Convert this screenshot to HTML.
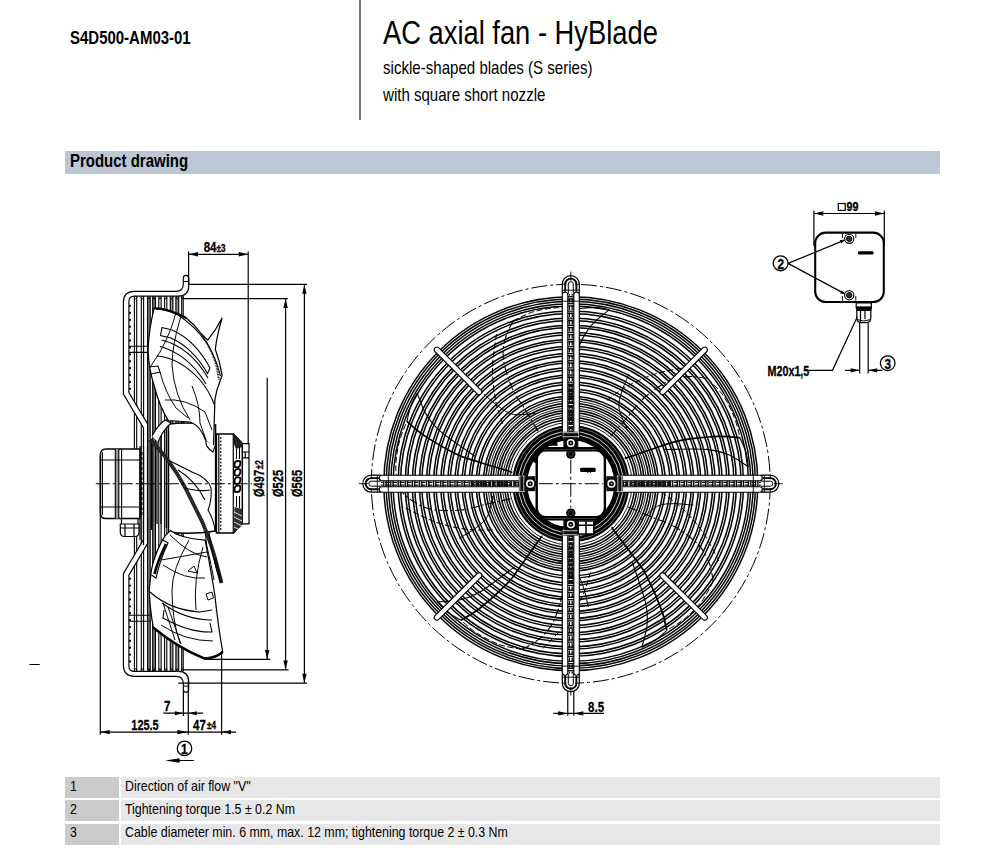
<!DOCTYPE html>
<html><head><meta charset="utf-8">
<style>
html,body{margin:0;padding:0;background:#fff;}
body{width:989px;height:852px;position:relative;overflow:hidden;font-family:"Liberation Sans",sans-serif;color:#000;}
.t{position:absolute;white-space:nowrap;transform-origin:0 0;line-height:1;}
.b{font-weight:bold;}
#vline{position:absolute;left:359px;top:0;width:2px;height:119.7px;background:#7a7a7a;}
#band{position:absolute;left:65.3px;top:151.3px;width:875px;height:22.3px;background:#bbc7d4;}
.row{position:absolute;left:120.8px;height:21px;width:819.5px;background:#e7e7e7;}
.row i{position:absolute;left:-55.6px;top:0;width:53.7px;height:21px;background:#cbcbcb;}
</style></head><body>
<div id="vline"></div>
<div class="t b" id="pn" style="left:69.8px;top:27.77px;font-size:19px;transform:scaleX(0.788)">S4D500-AM03-01</div>
<div class="t" id="ti" style="left:383.3px;top:15.1px;font-size:34px;transform:scaleX(0.8035)">AC axial fan - HyBlade</div>
<div class="t" id="s1" style="left:383px;top:58.6px;font-size:18.5px;transform:scaleX(0.815)">sickle-shaped blades (S series)</div>
<div class="t" id="s2" style="left:383px;top:86.4px;font-size:18.5px;transform:scaleX(0.814)">with square short nozzle</div>
<div id="band"></div>
<div class="t b" id="pd" style="left:69.5px;top:151.3px;font-size:19px;transform:scaleX(0.788)">Product drawing</div>
<div class="row" style="top:777.3px"><i></i></div>
<div class="row" style="top:800.3px"><i></i></div>
<div class="row" style="top:823.5px"><i></i></div>
<div class="t" id="r1a" style="left:69.6px;top:779.27px;font-size:14.8px;transform:scaleX(0.836)">1</div>
<div class="t" id="r1" style="left:124.9px;top:779.27px;font-size:14.8px;transform:scaleX(0.836)">Direction of air flow "V"</div>
<div class="t" id="r2a" style="left:69.6px;top:801.97px;font-size:14.8px;transform:scaleX(0.836)">2</div>
<div class="t" id="r2" style="left:124.9px;top:801.97px;font-size:14.8px;transform:scaleX(0.836)">Tightening torque 1.5 ± 0.2 Nm</div>
<div class="t" id="r3a" style="left:69.6px;top:824.97px;font-size:14.8px;transform:scaleX(0.836)">3</div>
<div class="t" id="r3" style="left:124.9px;top:824.97px;font-size:14.8px;transform:scaleX(0.836)">Cable diameter min. 6 mm, max. 12 mm; tightening torque 2 ± 0.3 Nm</div>
<svg id="dw" width="989" height="852" viewBox="0 0 989 852" style="position:absolute;left:0;top:0" fill="none" stroke="#000" stroke-width="1">
<g id="front"><g><path d="M625.0,457.9 C625.6,457.7 622.9,459.0 629.0,457.1 C635.0,455.1 652.6,448.8 661.3,446.0 C670.0,443.2 671.6,441.9 681.1,440.3 C690.5,438.7 708.2,436.9 718.0,436.4 C727.8,436.0 736.3,437.5 740.0,437.7" stroke-width="1.7"/><path d="M610.7,436.2 C613.3,433.2 621.2,424.3 626.7,418.0 C632.3,411.6 637.0,404.2 644.0,398.0 C651.0,391.8 661.0,384.6 668.6,381.0 C676.2,377.5 683.2,377.1 689.7,376.6 C696.3,376.2 704.9,378.2 707.9,378.5" stroke-width="1.1" stroke-dasharray="9 2.5 2 2.5"/><path d="M664.8,449.5 C671.7,449.5 696.0,448.5 706.5,449.4 C717.1,450.2 721.2,451.7 728.1,454.5 C735.1,457.4 744.9,464.6 748.3,466.6" stroke-width="1.1"/><path d="M629.0,373.8 C627.8,376.8 623.4,386.2 621.7,391.9 C620.0,397.6 618.2,402.0 619.0,408.0 C619.8,414.1 625.4,424.7 626.7,428.0" stroke-width="1.0"/><path d="M606.9,400.4 C610.2,398.0 618.7,390.7 627.1,386.2 C635.5,381.7 646.0,376.7 657.0,373.4 C668.0,370.1 687.2,367.4 693.3,366.2" stroke-width="1.0" stroke-dasharray="6 2.5"/><path d="M740.0,437.7 C741.0,440.2 744.7,448.0 746.1,452.8 C747.5,457.6 747.9,464.3 748.3,466.6" stroke-width="1.1"/><path d="M707.9,378.5 C710.4,381.4 718.8,389.2 723.2,395.7 C727.6,402.2 731.7,410.6 734.4,417.6 C737.2,424.6 739.0,434.4 740.0,437.7" stroke-width="1.0" stroke-dasharray="6 2.5"/><path d="M612.1,527.2 C612.4,527.8 610.4,525.7 614.1,530.8 C617.9,536.0 629.2,550.7 634.6,558.1 C639.9,565.5 641.7,566.6 646.2,575.1 C650.6,583.6 657.8,599.9 661.2,609.1 C664.7,618.3 665.9,626.8 666.8,630.4" stroke-width="1.7"/><path d="M628.3,506.9 C632.0,508.5 642.8,513.3 650.6,516.6 C658.4,519.9 666.9,522.1 674.9,526.8 C682.9,531.6 692.9,538.8 698.7,545.0 C704.4,551.1 706.9,557.6 709.4,563.7 C711.8,569.8 712.6,578.6 713.2,581.6" stroke-width="1.1" stroke-dasharray="9 2.5 2 2.5"/><path d="M632.4,562.5 C634.5,569.1 642.9,591.9 645.4,602.2 C647.9,612.5 647.7,616.8 647.1,624.3 C646.6,631.8 642.8,643.4 641.9,647.2" stroke-width="1.1"/><path d="M693.3,505.1 C690.1,504.9 679.8,503.6 673.9,503.7 C667.9,503.9 663.1,503.5 657.6,506.2 C652.2,508.8 643.8,517.4 641.0,519.6" stroke-width="1.0"/><path d="M661.2,492.2 C664.5,494.7 674.1,500.6 680.9,507.1 C687.8,513.7 695.8,522.1 702.4,531.6 C708.9,541.0 717.4,558.5 720.4,563.9" stroke-width="1.0" stroke-dasharray="6 2.5"/><path d="M666.8,630.4 C664.7,632.1 658.5,638.1 654.4,640.9 C650.2,643.7 644.0,646.2 641.9,647.2" stroke-width="1.1"/><path d="M713.2,581.6 C711.3,584.9 706.4,595.2 701.6,601.5 C696.8,607.7 690.1,614.1 684.3,618.9 C678.5,623.7 669.7,628.5 666.8,630.4" stroke-width="1.0" stroke-dasharray="6 2.5"/><path d="M542.2,536.4 C541.7,536.9 543.1,534.3 539.4,539.5 C535.6,544.6 525.1,560.0 519.7,567.3 C514.4,574.7 513.8,576.8 507.1,583.6 C500.4,590.5 487.2,602.3 479.5,608.5 C471.8,614.6 464.0,618.3 461.0,620.3" stroke-width="1.7"/><path d="M566.5,545.5 C566.1,549.6 564.9,561.3 564.2,569.7 C563.4,578.2 564.0,587.0 562.0,596.1 C559.9,605.1 556.1,616.9 552.0,624.3 C548.0,631.6 542.6,636.0 537.5,640.2 C532.5,644.4 524.4,647.9 521.7,649.4" stroke-width="1.1" stroke-dasharray="9 2.5 2 2.5"/><path d="M514.9,566.6 C509.3,570.7 490.2,585.7 481.2,591.3 C472.1,596.8 468.0,598.0 460.7,599.8 C453.3,601.5 441.2,601.5 437.3,601.8" stroke-width="1.1"/><path d="M588.3,606.9 C587.5,603.7 585.6,593.5 583.6,587.9 C581.6,582.3 580.5,577.6 576.3,573.2 C572.1,568.8 561.3,563.5 558.3,561.6" stroke-width="1.0"/><path d="M590.6,572.3 C589.3,576.2 586.7,587.1 582.6,595.7 C578.5,604.2 572.9,614.4 565.9,623.6 C558.9,632.8 544.9,646.2 540.7,650.7" stroke-width="1.0" stroke-dasharray="6 2.5"/><path d="M461.0,620.3 C458.7,618.9 451.1,614.8 447.2,611.7 C443.2,608.7 438.9,603.5 437.3,601.8" stroke-width="1.1"/><path d="M521.7,649.4 C518.0,648.6 506.6,647.2 499.2,644.5 C491.8,641.8 483.6,637.4 477.3,633.4 C470.9,629.4 463.7,622.5 461.0,620.3" stroke-width="1.0" stroke-dasharray="6 2.5"/><path d="M511.8,472.8 C511.2,472.5 514.1,473.0 508.1,471.0 C502.0,469.1 484.1,463.8 475.5,461.0 C466.8,458.2 464.7,458.3 456.1,454.0 C447.5,449.8 432.1,440.8 423.9,435.4 C415.7,430.0 409.8,423.8 406.9,421.4" stroke-width="1.7"/><path d="M510.6,498.7 C506.7,499.6 495.2,502.1 486.9,504.0 C478.7,505.9 470.5,509.1 461.2,510.0 C451.9,510.9 439.6,510.9 431.3,509.3 C423.1,507.7 417.2,503.9 411.7,500.4 C406.1,496.9 400.3,490.3 398.1,488.2" stroke-width="1.1" stroke-dasharray="9 2.5 2 2.5"/><path d="M474.7,456.1 C469.0,452.1 448.9,438.6 440.8,431.7 C432.8,424.8 430.3,421.2 426.4,414.8 C422.4,408.4 418.7,396.8 417.2,393.2" stroke-width="1.1"/><path d="M459.1,538.4 C461.8,536.7 470.9,531.7 475.6,528.1 C480.3,524.4 484.5,521.9 487.3,516.6 C490.2,511.2 491.9,499.4 492.8,495.9" stroke-width="1.0"/><path d="M492.6,529.9 C488.5,529.9 477.3,530.8 467.9,529.5 C458.5,528.2 447.1,526.1 436.2,522.3 C425.3,518.5 408.3,509.3 402.7,506.7" stroke-width="1.0" stroke-dasharray="6 2.5"/><path d="M406.9,421.4 C407.6,418.8 409.1,410.4 410.8,405.7 C412.5,401.0 416.1,395.3 417.2,393.2" stroke-width="1.1"/><path d="M398.1,488.2 C397.7,484.4 395.5,473.2 395.8,465.3 C396.0,457.4 397.7,448.3 399.5,441.0 C401.4,433.7 405.7,424.7 406.9,421.4" stroke-width="1.0" stroke-dasharray="6 2.5"/><path d="M563.0,424.2 C563.0,423.5 563.4,426.5 563.4,420.1 C563.4,413.8 562.9,395.1 562.9,386.0 C563.0,376.9 562.2,374.9 563.6,365.4 C565.0,355.9 568.7,338.6 571.3,329.1 C574.0,319.6 578.0,312.0 579.4,308.6" stroke-width="1.7"/><path d="M537.9,431.1 C535.9,427.6 529.9,417.4 525.6,410.2 C521.2,402.9 515.6,396.1 511.9,387.6 C508.2,379.1 504.4,367.3 503.4,359.0 C502.3,350.6 504.1,343.9 505.7,337.5 C507.3,331.2 511.9,323.6 513.1,320.8" stroke-width="1.1" stroke-dasharray="9 2.5 2 2.5"/><path d="M567.3,383.8 C569.4,377.1 576.0,353.8 580.1,344.0 C584.1,334.2 586.8,330.8 591.7,325.1 C596.6,319.3 606.4,312.2 609.4,309.6" stroke-width="1.1"/><path d="M484.2,394.4 C486.7,396.5 494.3,403.6 499.2,406.9 C504.1,410.3 507.8,413.4 513.7,414.5 C519.7,415.6 531.5,413.5 535.1,413.3" stroke-width="1.0"/><path d="M502.7,423.7 C501.5,419.7 497.2,409.4 495.5,400.0 C493.8,390.7 492.3,379.2 492.5,367.6 C492.8,356.1 496.2,337.0 496.9,330.9" stroke-width="1.0" stroke-dasharray="6 2.5"/><path d="M579.4,308.6 C582.1,308.4 590.6,307.3 595.6,307.4 C600.6,307.6 607.1,309.3 609.4,309.6" stroke-width="1.1"/><path d="M513.1,320.8 C516.6,319.3 526.6,313.7 534.2,311.5 C541.8,309.3 551.0,308.1 558.5,307.6 C566.0,307.1 575.9,308.4 579.4,308.6" stroke-width="1.0" stroke-dasharray="6 2.5"/></g>
<circle cx="570.8" cy="483.7" r="61.3" stroke-width="0.9"/>
<circle cx="570.8" cy="483.7" r="68.6" stroke-width="0.9"/>
<circle cx="570.8" cy="483.7" r="75.6" stroke-width="0.9"/>
<circle cx="570.8" cy="483.7" r="82.8" stroke-width="0.9"/>
<circle cx="570.8" cy="483.7" r="66.20" stroke-width="1.5"/>
<circle cx="570.8" cy="483.7" r="63.80" stroke-width="1.5"/>
<circle cx="570.8" cy="483.7" r="73.30" stroke-width="1.5"/>
<circle cx="570.8" cy="483.7" r="70.90" stroke-width="1.5"/>
<circle cx="570.8" cy="483.7" r="80.40" stroke-width="1.5"/>
<circle cx="570.8" cy="483.7" r="78.00" stroke-width="1.5"/>
<circle cx="570.8" cy="483.7" r="87.50" stroke-width="1.5"/>
<circle cx="570.8" cy="483.7" r="85.10" stroke-width="1.5"/>
<circle cx="570.8" cy="483.7" r="94.60" stroke-width="1.5"/>
<circle cx="570.8" cy="483.7" r="92.20" stroke-width="1.5"/>
<circle cx="570.8" cy="483.7" r="101.70" stroke-width="1.5"/>
<circle cx="570.8" cy="483.7" r="99.30" stroke-width="1.5"/>
<circle cx="570.8" cy="483.7" r="108.80" stroke-width="1.5"/>
<circle cx="570.8" cy="483.7" r="106.40" stroke-width="1.5"/>
<circle cx="570.8" cy="483.7" r="115.90" stroke-width="1.5"/>
<circle cx="570.8" cy="483.7" r="113.50" stroke-width="1.5"/>
<circle cx="570.8" cy="483.7" r="123.00" stroke-width="1.5"/>
<circle cx="570.8" cy="483.7" r="120.60" stroke-width="1.5"/>
<circle cx="570.8" cy="483.7" r="130.10" stroke-width="1.5"/>
<circle cx="570.8" cy="483.7" r="127.70" stroke-width="1.5"/>
<circle cx="570.8" cy="483.7" r="137.20" stroke-width="1.5"/>
<circle cx="570.8" cy="483.7" r="134.80" stroke-width="1.5"/>
<circle cx="570.8" cy="483.7" r="144.30" stroke-width="1.5"/>
<circle cx="570.8" cy="483.7" r="141.90" stroke-width="1.5"/>
<circle cx="570.8" cy="483.7" r="151.40" stroke-width="1.5"/>
<circle cx="570.8" cy="483.7" r="149.00" stroke-width="1.5"/>
<circle cx="570.8" cy="483.7" r="158.50" stroke-width="1.5"/>
<circle cx="570.8" cy="483.7" r="156.10" stroke-width="1.5"/>
<circle cx="570.8" cy="483.7" r="165.60" stroke-width="1.5"/>
<circle cx="570.8" cy="483.7" r="163.20" stroke-width="1.5"/>
<circle cx="570.8" cy="483.7" r="172.70" stroke-width="1.5"/>
<circle cx="570.8" cy="483.7" r="170.30" stroke-width="1.5"/>
<circle cx="570.8" cy="483.7" r="177.7" stroke-width="1.45"/>
<circle cx="570.8" cy="483.7" r="180.0" stroke-width="1.45"/>
<circle cx="570.8" cy="483.7" r="182.4" stroke-width="1.45"/>
<circle cx="570.8" cy="483.7" r="184.7" stroke-width="1.45"/>
<circle cx="570.8" cy="483.7" r="187.0" stroke-width="1.45"/>
<circle cx="570.8" cy="483.7" r="199.5" stroke-width="1" stroke-dasharray="16 3 3 3"/>
<g transform="rotate(45 570.8 483.7)"><rect x="697.8" y="481.0" width="65" height="5.4" rx="2.7" fill="#fff" stroke-width="1.1"/></g>
<g transform="rotate(135 570.8 483.7)"><rect x="697.8" y="481.0" width="65" height="5.4" rx="2.7" fill="#fff" stroke-width="1.1"/></g>
<g transform="rotate(225 570.8 483.7)"><rect x="697.8" y="481.0" width="65" height="5.4" rx="2.7" fill="#fff" stroke-width="1.1"/></g>
<g transform="rotate(315 570.8 483.7)"><rect x="697.8" y="481.0" width="65" height="5.4" rx="2.7" fill="#fff" stroke-width="1.1"/></g>
<circle cx="570.8" cy="483.7" r="51" stroke-width="15"/>
<circle cx="570.8" cy="483.7" r="49.2" stroke="#fff" stroke-width="0.8"/>
<circle cx="570.8" cy="483.7" r="52.6" stroke="#fff" stroke-width="0.8"/>
<circle cx="570.8" cy="483.7" r="56.3" stroke="#ddd" stroke-width="0.5"/>
<g transform="rotate(0 570.8 483.7)"><rect x="616.8" y="480.5" width="145" height="6.4" fill="#fff" stroke="none"/><path d="M634.65,480.5 v6.4 M636.95,480.5 v6.4" stroke-width="1.35"/><path d="M641.75,480.5 v6.4 M644.05,480.5 v6.4" stroke-width="1.35"/><path d="M648.85,480.5 v6.4 M651.15,480.5 v6.4" stroke-width="1.35"/><path d="M655.95,480.5 v6.4 M658.25,480.5 v6.4" stroke-width="1.35"/><path d="M663.05,480.5 v6.4 M665.35,480.5 v6.4" stroke-width="1.35"/><path d="M670.15,480.5 v6.4 M672.45,480.5 v6.4" stroke-width="1.35"/><path d="M677.25,480.5 v6.4 M679.55,480.5 v6.4" stroke-width="1.35"/><path d="M684.35,480.5 v6.4 M686.65,480.5 v6.4" stroke-width="1.35"/><path d="M691.45,480.5 v6.4 M693.75,480.5 v6.4" stroke-width="1.35"/><path d="M698.55,480.5 v6.4 M700.85,480.5 v6.4" stroke-width="1.35"/><path d="M705.65,480.5 v6.4 M707.95,480.5 v6.4" stroke-width="1.35"/><path d="M712.75,480.5 v6.4 M715.05,480.5 v6.4" stroke-width="1.35"/><path d="M719.85,480.5 v6.4 M722.15,480.5 v6.4" stroke-width="1.35"/><path d="M726.95,480.5 v6.4 M729.25,480.5 v6.4" stroke-width="1.35"/><path d="M734.05,480.5 v6.4 M736.35,480.5 v6.4" stroke-width="1.35"/><path d="M741.15,480.5 v6.4 M743.45,480.5 v6.4" stroke-width="1.35"/><path d="M748.5,480.5 v6.4" stroke-width="1.3"/><path d="M750.8,480.5 v6.4" stroke-width="1.3"/><path d="M753.1999999999999,480.5 v6.4" stroke-width="1.3"/><path d="M755.5,480.5 v6.4" stroke-width="1.3"/><path d="M757.8,480.5 v6.4" stroke-width="1.3"/><path d="M616.8,482.3 H760.8 M616.8,485.09999999999997 H760.8" stroke-width="1.3" stroke-dasharray="4.5 2.6"/><path d="M616.8,483.7 H670.8" stroke-width="5" stroke="#111" stroke-dasharray="3 1.2"/><path d="M760.8,475.2 H770.3 A8.5,8.5 0 0 1 770.3,492.2 H760.8" fill="#fff" stroke-width="1.2"/><path d="M762.8,478.09999999999997 H770.3 A5.6,5.6 0 0 1 770.3,489.3 H762.8" stroke-width="1.9"/><path d="M760.8,481.2 H770.3 A2.5,2.5 0 0 1 770.3,486.2 H760.8" stroke-width="1"/><path d="M764.3,475.2 v17 M770.3,475.2 v4 M770.3,488.2 v4" stroke-width="0.9"/><rect x="614.8" y="475.2" width="147.5" height="5.5" rx="2.6" fill="#fff" stroke-width="1.15"/><rect x="614.8" y="486.7" width="147.5" height="5.5" rx="2.6" fill="#fff" stroke-width="1.15"/><path d="M753.3,474.2 v19" stroke-width="0.9"/><path d="M773.8,483.7 H782.8" stroke-width="0.9"/><path d="M606.3,476.2 H622.8 V491.2 H606.3Z" fill="#111" stroke="none"/><path d="M617.8,475.2 v17 M621.8,475.2 v17" stroke="#fff" stroke-width="0.7"/><circle cx="611.4" cy="483.7" r="5.9" fill="#000" stroke="none"/><circle cx="611.4" cy="483.7" r="3.5" fill="#fff" stroke="#fff" stroke-width="1.2"/><circle cx="611.4" cy="483.7" r="2.5" fill="#000" stroke="none"/><circle cx="611.4" cy="483.7" r="0.9" fill="#ccc" stroke="none"/></g>
<g transform="rotate(90 570.8 483.7)"><rect x="616.8" y="480.5" width="145" height="6.4" fill="#fff" stroke="none"/><path d="M634.65,480.5 v6.4 M636.95,480.5 v6.4" stroke-width="1.35"/><path d="M641.75,480.5 v6.4 M644.05,480.5 v6.4" stroke-width="1.35"/><path d="M648.85,480.5 v6.4 M651.15,480.5 v6.4" stroke-width="1.35"/><path d="M655.95,480.5 v6.4 M658.25,480.5 v6.4" stroke-width="1.35"/><path d="M663.05,480.5 v6.4 M665.35,480.5 v6.4" stroke-width="1.35"/><path d="M670.15,480.5 v6.4 M672.45,480.5 v6.4" stroke-width="1.35"/><path d="M677.25,480.5 v6.4 M679.55,480.5 v6.4" stroke-width="1.35"/><path d="M684.35,480.5 v6.4 M686.65,480.5 v6.4" stroke-width="1.35"/><path d="M691.45,480.5 v6.4 M693.75,480.5 v6.4" stroke-width="1.35"/><path d="M698.55,480.5 v6.4 M700.85,480.5 v6.4" stroke-width="1.35"/><path d="M705.65,480.5 v6.4 M707.95,480.5 v6.4" stroke-width="1.35"/><path d="M712.75,480.5 v6.4 M715.05,480.5 v6.4" stroke-width="1.35"/><path d="M719.85,480.5 v6.4 M722.15,480.5 v6.4" stroke-width="1.35"/><path d="M726.95,480.5 v6.4 M729.25,480.5 v6.4" stroke-width="1.35"/><path d="M734.05,480.5 v6.4 M736.35,480.5 v6.4" stroke-width="1.35"/><path d="M741.15,480.5 v6.4 M743.45,480.5 v6.4" stroke-width="1.35"/><path d="M748.5,480.5 v6.4" stroke-width="1.3"/><path d="M750.8,480.5 v6.4" stroke-width="1.3"/><path d="M753.1999999999999,480.5 v6.4" stroke-width="1.3"/><path d="M755.5,480.5 v6.4" stroke-width="1.3"/><path d="M757.8,480.5 v6.4" stroke-width="1.3"/><path d="M616.8,482.3 H760.8 M616.8,485.09999999999997 H760.8" stroke-width="1.3" stroke-dasharray="4.5 2.6"/><path d="M616.8,483.7 H670.8" stroke-width="5" stroke="#111" stroke-dasharray="3 1.2"/><path d="M760.8,475.2 H770.3 A8.5,8.5 0 0 1 770.3,492.2 H760.8" fill="#fff" stroke-width="1.2"/><path d="M762.8,478.09999999999997 H770.3 A5.6,5.6 0 0 1 770.3,489.3 H762.8" stroke-width="1.9"/><path d="M760.8,481.2 H770.3 A2.5,2.5 0 0 1 770.3,486.2 H760.8" stroke-width="1"/><path d="M764.3,475.2 v17 M770.3,475.2 v4 M770.3,488.2 v4" stroke-width="0.9"/><rect x="614.8" y="475.2" width="147.5" height="5.5" rx="2.6" fill="#fff" stroke-width="1.15"/><rect x="614.8" y="486.7" width="147.5" height="5.5" rx="2.6" fill="#fff" stroke-width="1.15"/><path d="M753.3,474.2 v19" stroke-width="0.9"/><path d="M773.8,483.7 H782.8" stroke-width="0.9"/><path d="M606.3,476.2 H622.8 V491.2 H606.3Z" fill="#111" stroke="none"/><path d="M617.8,475.2 v17 M621.8,475.2 v17" stroke="#fff" stroke-width="0.7"/><circle cx="611.4" cy="483.7" r="5.9" fill="#000" stroke="none"/><circle cx="611.4" cy="483.7" r="3.5" fill="#fff" stroke="#fff" stroke-width="1.2"/><circle cx="611.4" cy="483.7" r="2.5" fill="#000" stroke="none"/><circle cx="611.4" cy="483.7" r="0.9" fill="#ccc" stroke="none"/></g>
<g transform="rotate(180 570.8 483.7)"><rect x="616.8" y="480.5" width="145" height="6.4" fill="#fff" stroke="none"/><path d="M634.65,480.5 v6.4 M636.95,480.5 v6.4" stroke-width="1.35"/><path d="M641.75,480.5 v6.4 M644.05,480.5 v6.4" stroke-width="1.35"/><path d="M648.85,480.5 v6.4 M651.15,480.5 v6.4" stroke-width="1.35"/><path d="M655.95,480.5 v6.4 M658.25,480.5 v6.4" stroke-width="1.35"/><path d="M663.05,480.5 v6.4 M665.35,480.5 v6.4" stroke-width="1.35"/><path d="M670.15,480.5 v6.4 M672.45,480.5 v6.4" stroke-width="1.35"/><path d="M677.25,480.5 v6.4 M679.55,480.5 v6.4" stroke-width="1.35"/><path d="M684.35,480.5 v6.4 M686.65,480.5 v6.4" stroke-width="1.35"/><path d="M691.45,480.5 v6.4 M693.75,480.5 v6.4" stroke-width="1.35"/><path d="M698.55,480.5 v6.4 M700.85,480.5 v6.4" stroke-width="1.35"/><path d="M705.65,480.5 v6.4 M707.95,480.5 v6.4" stroke-width="1.35"/><path d="M712.75,480.5 v6.4 M715.05,480.5 v6.4" stroke-width="1.35"/><path d="M719.85,480.5 v6.4 M722.15,480.5 v6.4" stroke-width="1.35"/><path d="M726.95,480.5 v6.4 M729.25,480.5 v6.4" stroke-width="1.35"/><path d="M734.05,480.5 v6.4 M736.35,480.5 v6.4" stroke-width="1.35"/><path d="M741.15,480.5 v6.4 M743.45,480.5 v6.4" stroke-width="1.35"/><path d="M748.5,480.5 v6.4" stroke-width="1.3"/><path d="M750.8,480.5 v6.4" stroke-width="1.3"/><path d="M753.1999999999999,480.5 v6.4" stroke-width="1.3"/><path d="M755.5,480.5 v6.4" stroke-width="1.3"/><path d="M757.8,480.5 v6.4" stroke-width="1.3"/><path d="M616.8,482.3 H760.8 M616.8,485.09999999999997 H760.8" stroke-width="1.3" stroke-dasharray="4.5 2.6"/><path d="M616.8,483.7 H670.8" stroke-width="5" stroke="#111" stroke-dasharray="3 1.2"/><path d="M760.8,475.2 H770.3 A8.5,8.5 0 0 1 770.3,492.2 H760.8" fill="#fff" stroke-width="1.2"/><path d="M762.8,478.09999999999997 H770.3 A5.6,5.6 0 0 1 770.3,489.3 H762.8" stroke-width="1.9"/><path d="M760.8,481.2 H770.3 A2.5,2.5 0 0 1 770.3,486.2 H760.8" stroke-width="1"/><path d="M764.3,475.2 v17 M770.3,475.2 v4 M770.3,488.2 v4" stroke-width="0.9"/><rect x="614.8" y="475.2" width="147.5" height="5.5" rx="2.6" fill="#fff" stroke-width="1.15"/><rect x="614.8" y="486.7" width="147.5" height="5.5" rx="2.6" fill="#fff" stroke-width="1.15"/><path d="M753.3,474.2 v19" stroke-width="0.9"/><path d="M773.8,483.7 H782.8" stroke-width="0.9"/><path d="M606.3,476.2 H622.8 V491.2 H606.3Z" fill="#111" stroke="none"/><path d="M617.8,475.2 v17 M621.8,475.2 v17" stroke="#fff" stroke-width="0.7"/><circle cx="611.4" cy="483.7" r="5.9" fill="#000" stroke="none"/><circle cx="611.4" cy="483.7" r="3.5" fill="#fff" stroke="#fff" stroke-width="1.2"/><circle cx="611.4" cy="483.7" r="2.5" fill="#000" stroke="none"/><circle cx="611.4" cy="483.7" r="0.9" fill="#ccc" stroke="none"/></g>
<g transform="rotate(270 570.8 483.7)"><rect x="616.8" y="480.5" width="145" height="6.4" fill="#fff" stroke="none"/><path d="M634.65,480.5 v6.4 M636.95,480.5 v6.4" stroke-width="1.35"/><path d="M641.75,480.5 v6.4 M644.05,480.5 v6.4" stroke-width="1.35"/><path d="M648.85,480.5 v6.4 M651.15,480.5 v6.4" stroke-width="1.35"/><path d="M655.95,480.5 v6.4 M658.25,480.5 v6.4" stroke-width="1.35"/><path d="M663.05,480.5 v6.4 M665.35,480.5 v6.4" stroke-width="1.35"/><path d="M670.15,480.5 v6.4 M672.45,480.5 v6.4" stroke-width="1.35"/><path d="M677.25,480.5 v6.4 M679.55,480.5 v6.4" stroke-width="1.35"/><path d="M684.35,480.5 v6.4 M686.65,480.5 v6.4" stroke-width="1.35"/><path d="M691.45,480.5 v6.4 M693.75,480.5 v6.4" stroke-width="1.35"/><path d="M698.55,480.5 v6.4 M700.85,480.5 v6.4" stroke-width="1.35"/><path d="M705.65,480.5 v6.4 M707.95,480.5 v6.4" stroke-width="1.35"/><path d="M712.75,480.5 v6.4 M715.05,480.5 v6.4" stroke-width="1.35"/><path d="M719.85,480.5 v6.4 M722.15,480.5 v6.4" stroke-width="1.35"/><path d="M726.95,480.5 v6.4 M729.25,480.5 v6.4" stroke-width="1.35"/><path d="M734.05,480.5 v6.4 M736.35,480.5 v6.4" stroke-width="1.35"/><path d="M741.15,480.5 v6.4 M743.45,480.5 v6.4" stroke-width="1.35"/><path d="M748.5,480.5 v6.4" stroke-width="1.3"/><path d="M750.8,480.5 v6.4" stroke-width="1.3"/><path d="M753.1999999999999,480.5 v6.4" stroke-width="1.3"/><path d="M755.5,480.5 v6.4" stroke-width="1.3"/><path d="M757.8,480.5 v6.4" stroke-width="1.3"/><path d="M616.8,482.3 H760.8 M616.8,485.09999999999997 H760.8" stroke-width="1.3" stroke-dasharray="4.5 2.6"/><path d="M616.8,483.7 H670.8" stroke-width="5" stroke="#111" stroke-dasharray="3 1.2"/><path d="M760.8,475.2 H770.3 A8.5,8.5 0 0 1 770.3,492.2 H760.8" fill="#fff" stroke-width="1.2"/><path d="M762.8,478.09999999999997 H770.3 A5.6,5.6 0 0 1 770.3,489.3 H762.8" stroke-width="1.9"/><path d="M760.8,481.2 H770.3 A2.5,2.5 0 0 1 770.3,486.2 H760.8" stroke-width="1"/><path d="M764.3,475.2 v17 M770.3,475.2 v4 M770.3,488.2 v4" stroke-width="0.9"/><rect x="614.8" y="475.2" width="147.5" height="5.5" rx="2.6" fill="#fff" stroke-width="1.15"/><rect x="614.8" y="486.7" width="147.5" height="5.5" rx="2.6" fill="#fff" stroke-width="1.15"/><path d="M753.3,474.2 v19" stroke-width="0.9"/><path d="M773.8,483.7 H782.8" stroke-width="0.9"/><path d="M606.3,476.2 H622.8 V491.2 H606.3Z" fill="#111" stroke="none"/><path d="M617.8,475.2 v17 M621.8,475.2 v17" stroke="#fff" stroke-width="0.7"/><circle cx="611.4" cy="483.7" r="5.9" fill="#000" stroke="none"/><circle cx="611.4" cy="483.7" r="3.5" fill="#fff" stroke="#fff" stroke-width="1.2"/><circle cx="611.4" cy="483.7" r="2.5" fill="#000" stroke="none"/><circle cx="611.4" cy="483.7" r="0.9" fill="#ccc" stroke="none"/></g>
<path d="M543.8,448.09999999999997 H597.8 M543.8,519.5 H597.8" stroke-width="2.2"/>
<rect x="536.6999999999999" y="450.4" width="68.2" height="66.8" rx="9" fill="#fff" stroke-width="2.4"/>
<path d="M532.8,461.7 l3.2,-7 l2,1.5 v8z M548.8,445.7 l8,-4 l1,4z" fill="#000" stroke="none"/>
<circle cx="570.8" cy="454.09999999999997" r="4.7" fill="#000" stroke="none"/>
<circle cx="570.8" cy="513.1" r="4.7" fill="#000" stroke="none"/>
<circle cx="570.8" cy="454.09999999999997" r="2.6" stroke="#666" stroke-width="0.6"/>
<circle cx="570.8" cy="513.1" r="2.6" stroke="#666" stroke-width="0.6"/>
<rect x="580.0999999999999" y="467.7" width="15.6" height="4.2" rx="1.2" fill="#000" stroke="none"/>
<path d="M587.8,471.9 v1.2 M590.3,471.9 v1.2" stroke-width="1"/>
<path d="M578.3,520.9 h15.5 v13 h-15.5z" fill="#fff" stroke-width="1.5"/><path d="M578.3,525.3 h15.5 M586.0,520.9 v13" stroke-width="1.5"/>
<path d="M538.8,483.7 H602.8 M570.8,459.7 V507.7" stroke-width="1" stroke-dasharray="14 3 3 3"/></g>
<g id="side"><path d="M134.4,296.2 V671.4 M136.7,296.2 V671.4" stroke-width="1.10"/>
<circle cx="135.6" cy="297.6" r="1.2" stroke-width="0.98"/>
<circle cx="135.6" cy="670.0" r="1.2" stroke-width="0.98"/>
<path d="M141.3,296.2 V671.4 M143.6,296.2 V671.4" stroke-width="1.10"/>
<circle cx="142.4" cy="297.6" r="1.2" stroke-width="0.98"/>
<circle cx="142.4" cy="670.0" r="1.2" stroke-width="0.98"/>
<rect x="147.6" y="296.2" width="2.6" height="375.2" fill="#888" stroke="none"/>
<path d="M147.6,296.2 V671.4 M150.2,296.2 V671.4" stroke-width="1.10"/>
<circle cx="148.9" cy="297.6" r="1.2" stroke-width="0.98"/>
<circle cx="148.9" cy="670.0" r="1.2" stroke-width="0.98"/>
<rect x="152.7" y="296.2" width="2.8" height="375.2" fill="#777" stroke="none"/>
<path d="M152.7,296.2 V671.4 M155.5,296.2 V671.4" stroke-width="1.10"/>
<circle cx="154.1" cy="297.6" r="1.2" stroke-width="0.98"/>
<circle cx="154.1" cy="670.0" r="1.2" stroke-width="0.98"/>
<path d="M158.8,296.2 V671.4 M161.1,296.2 V671.4" stroke-width="1.10"/>
<circle cx="159.9" cy="297.6" r="1.2" stroke-width="0.98"/>
<circle cx="159.9" cy="670.0" r="1.2" stroke-width="0.98"/>
<path d="M164.6,296.2 V671.4 M166.8,296.2 V671.4" stroke-width="1.10"/>
<circle cx="165.7" cy="297.6" r="1.2" stroke-width="0.98"/>
<circle cx="165.7" cy="670.0" r="1.2" stroke-width="0.98"/>
<rect x="170.3" y="296.2" width="2.6" height="375.2" fill="#999" stroke="none"/>
<path d="M170.3,296.2 V671.4 M172.9,296.2 V671.4" stroke-width="1.10"/>
<circle cx="171.6" cy="297.6" r="1.2" stroke-width="0.98"/>
<circle cx="171.6" cy="670.0" r="1.2" stroke-width="0.98"/>
<rect x="175.9" y="296.2" width="2.8" height="375.2" fill="#999" stroke="none"/>
<path d="M175.9,296.2 V671.4 M178.7,296.2 V671.4" stroke-width="1.10"/>
<circle cx="177.3" cy="297.6" r="1.2" stroke-width="0.98"/>
<circle cx="177.3" cy="670.0" r="1.2" stroke-width="0.98"/>
<path d="M181.7,296.2 V671.4 M183.2,296.2 V671.4" stroke-width="1.10"/>
<circle cx="182.4" cy="297.6" r="1.2" stroke-width="0.98"/>
<circle cx="182.4" cy="670.0" r="1.2" stroke-width="0.98"/>
<path d="M129.9,306 V392 M129.9,661.6 V575.6" stroke-width="2.32" stroke-linecap="round" stroke-dasharray="0.1 6.8"/>
<path d="M123.4,346.3 H150 M123.4,621.3 H150" stroke-width="1.10"/>
<path d="M123.4,352.4 H150 M123.4,615.2 H150" stroke-width="1.10"/>
<path d="M143.5,449 V428 L123.4,394 V302.3 Q123.4,291.3 134.4,291.3 H176 Q183.3,291.3 183.3,284 V278 Q183.3,275.3 186,275.3 Q188.7,275.3 188.7,278 V286 Q188.7,296.2 178,296.2 H134.4 Q128.9,296.2 128.9,301.7 V392.5 L147.6,424 V449" fill="#fff" stroke-width="1.16"/><path d="M183.3,281.5 H188.7" stroke-width="0.98"/>
<path d="M143.5,518.6 V539.6 L123.4,573.6 V665.3 Q123.4,676.3 134.4,676.3 H176 Q183.3,676.3 183.3,683.6 V689.6 Q183.3,692.3 186,692.3 Q188.7,692.3 188.7,689.6 V681.6 Q188.7,671.4000000000001 178,671.4000000000001 H134.4 Q128.9,671.4000000000001 128.9,665.9000000000001 V575.1 L147.6,543.6 V518.6" fill="#fff" stroke-width="1.16"/><path d="M183.3,686.1 H188.7" stroke-width="0.98"/>
<path d="M168.5,424 Q190,421.5 215.6,425 V531 Q190,535 168.5,532 Z" fill="#fff" stroke-width="1.46"/>
<path d="M166.3,430 V528 M161,436 V524 M157,436 V524" stroke-width="1.22"/>
<path d="M216.4,434.1 H233.5 L242.3,443.2 V523.8 L233.5,532.9 H216.4 Z" fill="#fff" stroke-width="1.46"/>
<path d="M218.8,434.1 V532.9" stroke-width="1.22"/>
<path d="M220.8,437 V530" stroke-width="1.10" stroke-dasharray="2 1.5"/>
<path d="M233.3,434.1 V532.9" stroke-width="1.22"/>
<path d="M233.5,434.3 L242.3,443.2 V447 L236,449 L234,444 Z" fill="#222" stroke="none"/>
<path d="M233.5,532.7 L242.3,523.8 V509 L234.5,507 Z" fill="#333" stroke="none"/>
<path d="M234,512 l8,4 M234,517 l8,4 M234,522 l8,4 M234,527 l6,3" stroke="#fff" stroke-width="0.85"/>
<path d="M236.5,449 V459 M239.5,447 V459 M236.5,496 V507 M239.5,496 V508" stroke-width="1.10"/>
<rect x="234.6" y="461" width="5.6" height="6.4" rx="2.3" transform="skewX(-10)" transform-origin="237.4 464.2" stroke-width="1.83"/>
<rect x="234.6" y="469.2" width="5.6" height="6.4" rx="2.3" transform="skewX(-10)" transform-origin="237.4 472.4" stroke-width="1.83"/>
<rect x="234.6" y="477.4" width="5.6" height="6.4" rx="2.3" transform="skewX(-10)" transform-origin="237.4 480.59999999999997" stroke-width="1.83"/>
<rect x="234.6" y="485.6" width="5.6" height="6.4" rx="2.3" transform="skewX(-10)" transform-origin="237.4 488.8" stroke-width="1.83"/>
<path d="M242.6,443.7 H249 V523.8 H242.6 M242.6,452 H249 M242.6,457.8 H249 M245.2,452 v5.8" stroke-width="1.22"/>
<path d="M140,449 H106 Q100.4,449 100.4,455 V512.5 Q100.4,518.6 106,518.6 H140 Z" fill="#fff" stroke-width="1.46"/>
<rect x="115.3" y="449" width="3.5" height="69.6" fill="#999" stroke="none"/>
<path d="M115.3,449 V518.6 M118.8,449 V518.6 M121.6,449 V518.6 M100.4,460 H140 M100.4,507 H140 M102.4,452 V515" stroke-width="1.10"/>
<path d="M140,446 V540 M143.5,446 V545 M147.5,446 V540 M151.4,440 V530" stroke-width="1.22"/>
<path d="M141.5,452 V516" stroke-width="1.95" stroke-dasharray="3 2"/>
<path d="M121.5,518.6 H138 V524 H121.5Z M120.3,524 H139 V532 Q139,536.5 135,536.5 H124.5 Q120.3,536.5 120.3,532Z M120.3,528 H139 M125,524 V536 M134,524 V536" fill="#fff" stroke-width="1.22"/>
<path d="M154.2,308.1 Q163,308.3 171,311.2 Q179,314 186.3,318 Q195,325 201.5,334 L207.7,340.2 Q216,330 222.1,318 Q217,335 215.3,349.3 Q220,362 222.1,375.3 L216.8,390.5 Q214,400 214.6,410 L213.5,447 L206,441 Q200,425 190,422 L168.4,420.5 Q160,408 154.2,386 Q148.5,368 148.1,349.3 Q149,328 154.2,308.1 Z" fill="#fff" stroke-width="1.22"/>
<path d="M154.2,308.1 Q163,308.3 171,311.2 Q179,314 186.3,318" stroke-width="2.07"/>
<path d="M156,309 Q168,310 178,315 Q195,326 207,343 Q216,358 220.5,376" stroke-width="1.10"/><path d="M162,327.5 L172,330 Q195,340 210,368 L207.5,373.5 Q193,348 171,338 L160.5,335.5 Z" stroke-width="1.10"/><path d="M161.5,340 Q190,347 208,378 M160,346.5 Q188,354 206,384" stroke-width="1.10"/><path d="M157,356 Q180,358 200,380 Q210,392 214,404" stroke-width="1.10"/><path d="M176,312 Q172,330 160,352 L149.5,368 M181,316 Q172,345 172,365 Q174,395 190,420" stroke-width="0.98"/><path d="M149,367 L158,366 L160,372 L151,374" stroke-width="1.10"/><path d="M160,372 Q165,392 176,408 L188,418 M165,400 Q185,398 205,412 L212,430 M192,386 Q200,405 200,423 L206,440" stroke-width="0.98"/><path d="M202,336 Q212,350 216.5,366 L219,380" stroke-width="1.95" stroke-dasharray="0.8 0.8"/>
<path d="M170.3,530.6 Q165,535 161.8,541.1 Q154,556 151.3,570.7 L149.2,589.7 Q150,610 153.4,627.8 Q178,648 204.1,658.4 Q215,658.5 222.7,652 Q218,625 214.7,594 Q210,565 205.1,540.1 Q188,539 176,534 Z" fill="#fff" stroke-width="1.22"/>
<path d="M153.4,627.8 Q178,648 204.1,658.4 Q215,658.5 222.7,652" stroke-width="2.44"/><path d="M163,540 L168,543 Q160,560 156,578 L151.5,575" stroke-width="1.10"/><path d="M166,544 Q158,560 154.5,574" stroke-width="2.68"/><path d="M170,535 Q190,555 207,557 M161,560 Q185,556 207,552 M163,565 Q185,580 205,578" stroke-width="0.98"/><path d="M189,540 Q172,570 172,590 Q172,620 180,643 M203,547 Q193,580 196,610" stroke-width="0.98"/><path d="M150,592 Q170,610 200,612 L212,610 M162,603 Q185,620 212,620 M164,610 L163,618 Q190,633 212,632 L210,623" stroke-width="1.10"/><path d="M161,625 Q185,641 213,641 M163,603 L175,640 M168,607 L181,644" stroke-width="0.98"/><path d="M188,571 L194,566 L197,573 Z M206,594 L212,592 L213.5,598 L208,600 Z" stroke-width="0.98"/>
<path d="M149.6,439.3 Q158,447 168.1,460.4 Q178,474 185.7,488.6 L201.5,520.3 Q210,540 215,558 L221.5,583" stroke-width="3.70" stroke="#111"/>
<path d="M149.6,439.3 Q158,447 168.1,460.4 Q178,474 185.7,488.6 L201.5,520.3 Q210,540 215,558" stroke-width="2.68" stroke="#fff" stroke-opacity="0.35" stroke-dasharray="0.6 1.3"/>
<path d="M168,460 Q180,466 192,472 Q208,478 211,488 Q212,500 208,510 Q214,520 215,531 M178,470 Q195,480 205,500 M185,488 Q200,492 210,490" stroke-width="1.10"/>
<path d="M152,436 Q158,425 165,420 L171,423 Q163,430 158,442 M206,441 Q205,447 213,452 L215,446" fill="#fff" stroke-width="1.10"/>
<path d="M205,531 Q206,545 210,560 L214,580 M209,531 Q211,550 218,575" stroke-width="0.98"/>
<path d="M95.8,483.7 H252" stroke-width="1.10" stroke-dasharray="14 3 3 3"/></g>
<g id="dims" font-family="Liberation Sans, sans-serif"><text transform="translate(203.7 252.4) scale(0.755 1)" font-size="15.2" font-weight="bold" text-anchor="start" fill="#000" stroke="#000" stroke-width="0.3" >84</text>
<text transform="translate(216.6 251.6) scale(0.82 1)" font-size="10" font-weight="bold" text-anchor="start" fill="#000" stroke="#000" stroke-width="0.3" >±3</text>
<text transform="translate(302.0 497) rotate(-90) scale(0.728 1)" font-size="15.2" font-weight="bold" text-anchor="start" fill="#000" stroke="#000" stroke-width="0.3" >Ø565</text>
<text transform="translate(282.7 497) rotate(-90) scale(0.728 1)" font-size="15.2" font-weight="bold" text-anchor="start" fill="#000" stroke="#000" stroke-width="0.3" >Ø525</text>
<text transform="translate(264.3 497) rotate(-90) scale(0.728 1)" font-size="15.2" font-weight="bold" text-anchor="start" fill="#000" stroke="#000" stroke-width="0.3" >Ø497</text>
<text transform="translate(263.4 469.2) rotate(-90) scale(0.82 1)" font-size="10" font-weight="bold" text-anchor="start" fill="#000" stroke="#000" stroke-width="0.3" >±2</text>
<text transform="translate(131.3 730.0) scale(0.72 1)" font-size="15.2" font-weight="bold" text-anchor="start" fill="#000" stroke="#000" stroke-width="0.3" >125.5</text>
<text transform="translate(193.1 730.0) scale(0.755 1)" font-size="15.2" font-weight="bold" text-anchor="start" fill="#000" stroke="#000" stroke-width="0.3" >47</text>
<text transform="translate(207.0 729.0) scale(0.82 1)" font-size="10" font-weight="bold" text-anchor="start" fill="#000" stroke="#000" stroke-width="0.3" >±4</text>
<text transform="translate(163.9 711.2) scale(0.755 1)" font-size="15.2" font-weight="bold" text-anchor="start" fill="#000" stroke="#000" stroke-width="0.3" >7</text>
<circle cx="184.5" cy="748.4" r="7.2" stroke-width="1.3"/>
<text transform="translate(184.2 753.6) scale(0.82 1)" font-size="14.5" font-weight="bold" text-anchor="middle" fill="#000" stroke="#000" stroke-width="0.3" >1</text>
<text transform="translate(588.1 711.6) scale(0.755 1)" font-size="15.2" font-weight="bold" text-anchor="start" fill="#000" stroke="#000" stroke-width="0.3" >8.5</text>
<path d="M188.6,251.5 V283.4 M248.2,251.5 V443.7 M188.6,254.3 H248.2 M188.8,284.4 H307 M304.4,284.4 V683.1 M178.3,683.1 H307 M183.5,298.6 H287.9 M285.6,298.6 V669.8 M183.4,669.8 H288.5 M267.2,377.7 V659.3 M204,659.3 H270.2 M100.3,455 V734.7 M188.3,680.9 V734.7 M221.6,651 V734.7 M100.3,732.1 H236 M163.3,713.2 H203 M183.4,691 V716 M170,760.5 H193.9 M567.75,691.5 V715.8 M573.8,691.5 V715.8 M553.3,713.4 H603.9 M29.5,664.5 H39.7" stroke-width="1.2"/>
<path d="M188.6,254.3 l9.4,-2.2 v4.4Z M248.2,254.3 l-9.4,-2.2 v4.4Z M304.4,284.4 l-2.2,9.4 h4.4Z M304.4,683.1 l-2.2,-9.4 h4.4Z M285.6,298.6 l-2.2,9.4 h4.4Z M285.6,669.8 l-2.2,-9.4 h4.4Z M267.2,659.3 l-2.2,-9.4 h4.4Z M100.3,732.1 l9.4,-2.2 v4.4Z M188.3,732.1 l-11,-2.2 v4.4Z M221.6,732.1 l9.4,-2.2 v4.4Z M183.4,713.2 l-8.5,-2 v4Z M188.3,713.2 l8.5,-2 v4Z M165.1,760.5 l14.5,-2.3 v4.6Z M567.75,713.4 l-9.5,-2.1 v4.2Z M573.8,713.4 l9.5,-2.1 v4.2Z" fill="#000" stroke="none"/></g>
<g id="box" font-family="Liberation Sans, sans-serif"><rect x="838.3" y="203.5" width="6.9" height="6.9" stroke-width="1.2"/>
<text transform="translate(846.6 211.3) scale(0.83 1)" font-size="13" font-weight="bold" text-anchor="start" fill="#000" stroke="#000" stroke-width="0.3" >99</text>
<rect x="815.2" y="232.6" width="68.6" height="69.4" rx="10.5" fill="#fff" stroke-width="2.1"/>
<circle cx="849.2" cy="238.8" r="4.6" fill="#fff" stroke-width="1.1"/>
<circle cx="849.2" cy="238.8" r="2.7" fill="#333" stroke-width="1"/>
<circle cx="849.2" cy="295.2" r="4.6" fill="#fff" stroke-width="1.1"/>
<circle cx="849.2" cy="295.2" r="2.7" fill="#333" stroke-width="1"/>
<path d="M842.5,233.8 V238 M855.8,233.8 V238 M842.5,300.8 V296 M855.8,300.8 V296" stroke-width="0.9"/>
<rect x="858" y="251.2" width="15.5" height="3.4" rx="1" fill="#000" stroke="none"/>
<circle cx="780.6" cy="263.3" r="7.45" stroke-width="1.3"/>
<text transform="translate(780.7 268.6) scale(0.82 1)" font-size="14.5" font-weight="bold" text-anchor="middle" fill="#000" stroke="#000" stroke-width="0.3" >2</text>
<path d="M856.2,303 H871.4 V308 H856.2Z M856.8,308 H870.8 V318 Q870.8,322.6 866,322.6 H861.5 Q856.8,322.6 856.8,318Z M860.5,311 V322 M865,311 V319" fill="#fff" stroke-width="1.2"/>
<rect x="856.2" y="306.4" width="15.2" height="4.6" fill="#000" stroke="none"/>
<path d="M856.8,319.5 Q863.8,322.5 870.8,319.5" stroke-width="1"/>
<text transform="translate(767.4 375.5) scale(0.71 1)" font-size="15.2" font-weight="bold" text-anchor="start" fill="#000" stroke="#000" stroke-width="0.3" >M20x1,5</text>
<circle cx="887.7" cy="363.2" r="7.3" stroke-width="1.3"/>
<text transform="translate(887.8 368.6) scale(0.82 1)" font-size="14.5" font-weight="bold" text-anchor="middle" fill="#000" stroke="#000" stroke-width="0.3" >3</text>
<path d="M813.9,210.6 V246 M884.3,210.6 V246 M813.9,213.5 H884.3 M788,263.4 L844,240.4 M788,263.4 L844,293.4 M859.7,322.6 V373.5 M868.2,322.6 V373.5 M808.8,370.3 H832.5 L857.3,316.7 M845,370.3 H859.7 M868.2,370.3 H882.6" stroke-width="1.2"/>
<path d="M813.9,213.5 l9.4,-2.2 v4.4Z M884.3,213.5 l-9.4,-2.2 v4.4Z M845.5,239.8 l-5.6,0.3 l1.4,3.4Z M845.5,294.2 l-5.4,-0.6 l1.5,-3.2Z M859.7,370.3 l-9,-2.1 v4.2Z M868.2,370.3 l9,-2.1 v4.2Z" fill="#000" stroke="none"/></g>
</svg>
</body></html>
